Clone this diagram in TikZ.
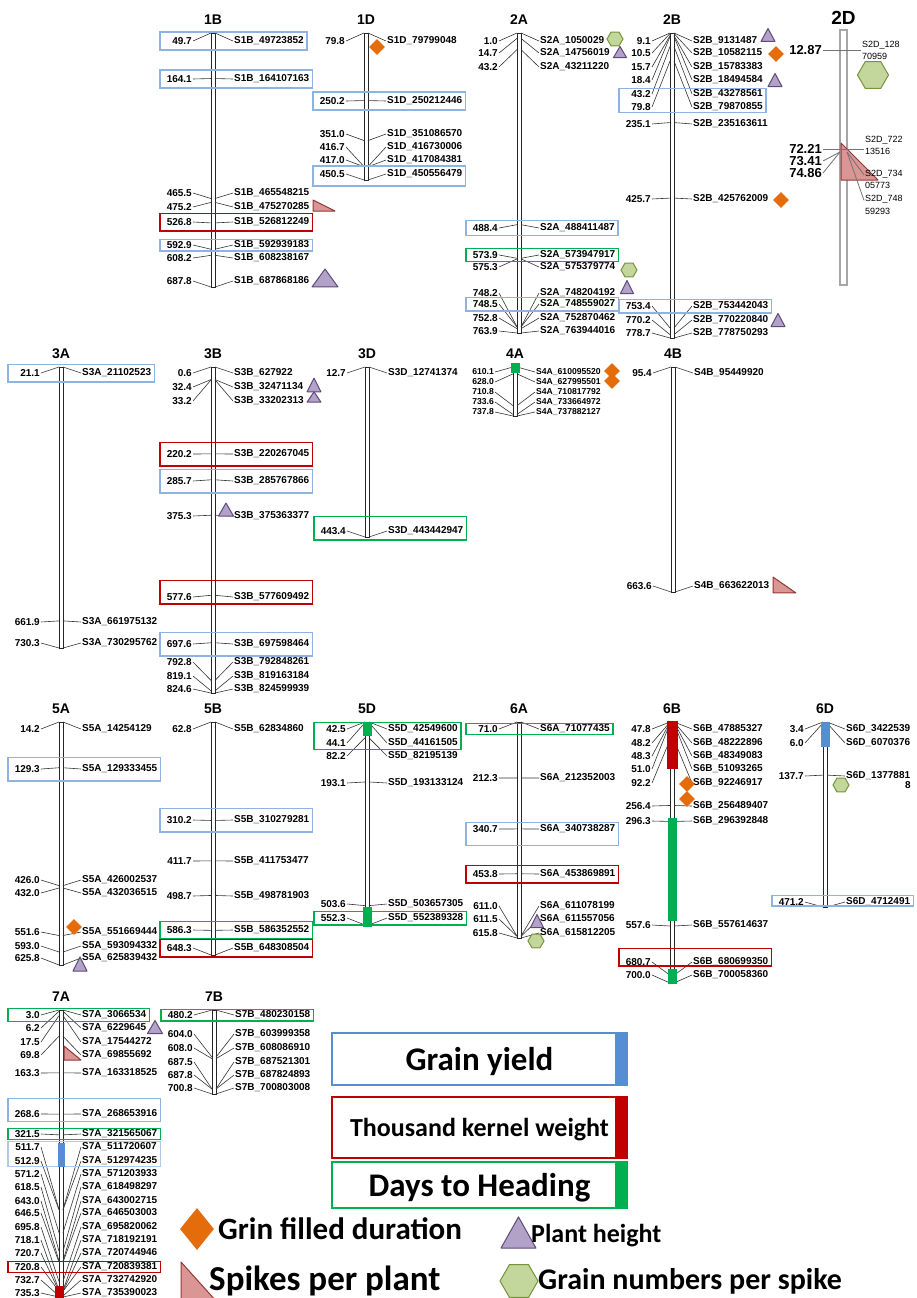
\documentclass[tikz,border=0pt]{standalone}
\usepackage{fontspec}
\setmainfont{Liberation Sans}
\newfontfamily\legfont{Carlito}
\usepackage{tikz}
\usetikzlibrary{positioning,shapes.geometric,fit,calc}
\definecolor{gyblue}{HTML}{8DB3E2}
\definecolor{gybarblue}{HTML}{558ED5}
\definecolor{tkwred}{HTML}{C00000}
\definecolor{dthgreen}{HTML}{00B050}
\definecolor{gfdorange}{HTML}{E46C0A}
\definecolor{phfill}{HTML}{B3A2C7}
\definecolor{phdraw}{HTML}{604A7B}
\definecolor{gnsfill}{HTML}{C3D69B}
\definecolor{gnsdraw}{HTML}{77933C}
\definecolor{sppfill}{HTML}{D99694}
\definecolor{sppdraw}{HTML}{953735}

% chromosome: name, x, top y, bottom y, top position, bottom position
\newcommand{\chromo}[6]{%
  \def\chx{#2}\def\chyt{#3}\def\chyb{#4}\def\chvt{#5}\def\chvb{#6}%
  \node[chrtitle] (t#1) at (#2,#3-13) {#1};
  \draw[chrbody] (#2-2,#3) rectangle (#2+2,#4);
}
% marker: id, label y, position, marker name
\newcommand{\mk}[4]{%
  \pgfmathsetmacro{\aty}{\chyt+(#3-\chvt)/(\chvb-\chvt)*(\chyb-\chyt)}%
  \coordinate (l#1) at (\chx-51,#2);
  \node[vlab] (v#1) at (\chx-20,#2) {#3};
  \node[nlab] (n#1) at (\chx+20,#2) {#4};
  \draw[mkline] (v#1.east) -- (\chx-2,\aty);
  \draw[mkline] (\chx+2,\aty) -- (n#1.west);
}
% trait box: style, first marker, last marker
\newcommand{\qbox}[3]{%
  \node[#1, fit=(l#2)(v#2)(n#2)(l#3)(n#3)] (q#2) {};
}

\begin{document}
\begin{tikzpicture}[
  x=1pt, y=-1pt,
  font=\bfseries\fontsize{10}{12}\selectfont,
  chrtitle/.style={font=\bfseries\fontsize{14}{16}\selectfont, inner sep=0pt},
  chrbody/.style={draw=black!85, line width=0.7pt},
  vlab/.style={anchor=east, inner sep=1pt},
  nlab/.style={anchor=west, inner sep=1pt},
  mkline/.style={draw=black!80, line width=0.6pt},
  trait/.style={inner xsep=2pt, inner ysep=3.5pt, line width=1.4pt},
  tall/.style={inner ysep=6.5pt},
  thin/.style={inner ysep=0.5pt},
  gybox/.style={trait, draw=gyblue},
  tkwbox/.style={trait, draw=tkwred},
  dthbox/.style={trait, draw=dthgreen},
  gfd/.style={diamond, fill=gfdorange, inner sep=0pt, minimum width=16pt, minimum height=16pt},
  gns/.style={regular polygon, regular polygon sides=6, fill=gnsfill, draw=gnsdraw, line width=1pt, inner sep=0pt, minimum size=16pt},
  phmark/.style={fill=phfill, draw=phdraw, line width=1pt, line join=round},
  sppmark/.style={fill=sppfill, draw=sppdraw, line width=1pt, line join=round},
  ph/.pic={\filldraw[phmark] (-7,6.5) -- (7,6.5) -- (0,-6.5) -- cycle;},
  spp/.pic={\filldraw[sppmark] (-10,-6) -- (-10,6) -- (10,6) -- cycle;},
  dval/.style={anchor=east, inner sep=1pt, font=\bfseries\fontsize{13}{15}\selectfont},
  dname/.style={anchor=west, inner sep=1pt, align=left, font=\mdseries\fontsize{9}{12.5}\selectfont},
  dline/.style={draw=black!55, line width=0.8pt},
  legbox/.style={minimum width=295pt, line width=1.5pt, inner sep=0pt, text depth=0pt},
  legtxt/.style={anchor=base west, inner sep=0pt}
]
  \useasboundingbox (0,0) rectangle (916,1298);
  \clip (0,0) rectangle (916,1298);

  % ---------------------------------------------------------------------------
  % 1B
  % ---------------------------------------------------------------------------
  \chromo{1B}{213}{33}{287}{49.7}{687.8}
  \mk{1B1}{41}{49.7}{S1B\_49723852}
  \mk{1B2}{79}{164.1}{S1B\_164107163}
  \mk{1B3}{193}{465.5}{S1B\_465548215}
  \mk{1B4}{207}{475.2}{S1B\_475270285}
  \mk{1B5}{222}{526.8}{S1B\_526812249}
  \mk{1B6}{245}{592.9}{S1B\_592939183}
  \mk{1B7}{258}{608.2}{S1B\_608238167}
  \mk{1B8}{281}{687.8}{S1B\_687868186}
  \qbox{gybox}{1B1}{1B1}
  \qbox{gybox}{1B2}{1B2}
  \qbox{tkwbox}{1B5}{1B5}
  \qbox{gybox, thin}{1B6}{1B6}
  \pic[xscale=1.1, yscale=0.92] at (324,205.5) {spp};
  \pic[xscale=1.86, yscale=1.38] at (325,278) {ph};

  % ---------------------------------------------------------------------------
  % 1D
  % ---------------------------------------------------------------------------
  \chromo{1D}{366}{33}{180}{79.8}{450.5}
  \mk{1D1}{41}{79.8}{S1D\_79799048}
  \mk{1D2}{101}{250.2}{S1D\_250212446}
  \mk{1D3}{134}{351.0}{S1D\_351086570}
  \mk{1D4}{147}{416.7}{S1D\_416730006}
  \mk{1D5}{160}{417.0}{S1D\_417084381}
  \mk{1D6}{174}{450.5}{S1D\_450556479}
  \qbox{gybox}{1D2}{1D2}
  \qbox{gybox, inner ysep=4.5pt, yshift=-2pt}{1D6}{1D6}
  \node[gfd] (k1D1) at (377,47) {};

  % ---------------------------------------------------------------------------
  % 2A
  % ---------------------------------------------------------------------------
  \chromo{2A}{519}{33}{333}{1.0}{763.9}
  \mk{2A1}{41}{1.0}{S2A\_1050029}
  \mk{2A2}{53}{14.7}{S2A\_14756019}
  \mk{2A3}{67}{43.2}{S2A\_43211220}
  \mk{2A4}{228}{488.4}{S2A\_488411487}
  \mk{2A5}{255}{573.9}{S2A\_573947917}
  \mk{2A6}{267}{575.3}{S2A\_575379774}
  \mk{2A7}{293}{748.2}{S2A\_748204192}
  \mk{2A8}{304}{748.5}{S2A\_748559027}
  \mk{2A9}{318}{752.8}{S2A\_752870462}
  \mk{2A10}{331}{763.9}{S2A\_763944016}
  \qbox{gybox, inner ysep=2pt}{2A4}{2A4}
  \qbox{dthbox, inner ysep=1pt}{2A5}{2A5}
  \qbox{gybox, inner ysep=1.5pt}{2A8}{2A8}
  \node[gns] (k2A1) at (615,39) {};
  \pic[xscale=0.93, yscale=0.85] at (620,52) {ph};
  \node[gns] (k2A2) at (629,270) {};
  \pic[xscale=0.93] at (627,287) {ph};

  % ---------------------------------------------------------------------------
  % 2B
  % ---------------------------------------------------------------------------
  \chromo{2B}{672}{33}{338}{9.1}{778.7}
  \mk{2B1}{41}{9.1}{S2B\_9131487}
  \mk{2B2}{53}{10.5}{S2B\_10582115}
  \mk{2B3}{67}{15.7}{S2B\_15783383}
  \mk{2B4}{80}{18.4}{S2B\_18494584}
  \mk{2B5}{94}{43.2}{S2B\_43278561}
  \mk{2B6}{107}{79.8}{S2B\_79870855}
  \mk{2B7}{124}{235.1}{S2B\_235163611}
  \mk{2B8}{199}{425.7}{S2B\_425762009}
  \mk{2B9}{306}{753.4}{S2B\_753442043}
  \mk{2B10}{320}{770.2}{S2B\_770220840}
  \mk{2B11}{333}{778.7}{S2B\_778750293}
  \qbox{gybox, inner ysep=0pt}{2B5}{2B6}
  \qbox{gybox, inner ysep=1.5pt}{2B9}{2B9}
  \pic at (768,35) {ph};
  \node[gfd] (k2B1) at (776,54) {};
  \pic at (775,80) {ph};
  \node[gfd] (k2B2) at (781,200) {};
  \pic at (778,320) {ph};

  % ---------------------------------------------------------------------------
  % 2D
  % ---------------------------------------------------------------------------
  \node[chrtitle, font=\bfseries\fontsize{19}{21}\selectfont] (t2D) at (843.5,18) {2D};
  \draw[draw=black!35, line width=2pt] (840,30) rectangle (847,285);
  \filldraw[sppmark] (841,143) -- (841,180) -- (878,180) -- cycle;
  \node[gns, minimum size=31pt] (k2D1) at (873,75) {};
  \coordinate (a2D) at (840,152);
  \coordinate (b2D) at (847,152);
  \node[dval] (v2D1) at (823,50) {12.87};
  \node[dname] (n2D1) at (861,50.5) {S2D\_128\\70959};
  \node[dval] (v2D2) at (823,149) {72.21};
  \node[dname] (n2D2) at (864,145.5) {S2D\_722\\13516};
  \node[dval] (v2D3) at (823,161) {73.41};
  \node[dname] (n2D3) at (864,179.5) {S2D\_734\\05773};
  \node[dval] (v2D4) at (823,173) {74.86};
  \node[dname] (n2D4) at (864,205) {S2D\_748\\59293};
  \draw[dline] (v2D1.east) -- (v2D1.east -| n2D1.west);
  \draw[dline] (v2D2.east) -- (v2D2.east -| n2D2.west);
  \draw[dline] (v2D3.east) -- (a2D);
  \draw[dline] (v2D4.east) -- (a2D);
  \draw[dline] (b2D) -- ($(n2D3.north west)+(0,6)$);
  \draw[dline] (b2D) -- ($(n2D4.north west)+(0,6)$);

  % ---------------------------------------------------------------------------
  % 3A, 3B, 3D
  % ---------------------------------------------------------------------------
  \chromo{3A}{61}{367}{648}{21.1}{730.3}
  \mk{3A1}{373}{21.1}{S3A\_21102523}
  \mk{3A2}{622}{661.9}{S3A\_661975132}
  \mk{3A3}{643}{730.3}{S3A\_730295762}
  \qbox{gybox}{3A1}{3A1}

  \chromo{3B}{213}{367}{693}{0.6}{824.6}
  \mk{3B1}{373}{0.6}{S3B\_627922}
  \mk{3B2}{387}{32.4}{S3B\_32471134}
  \mk{3B3}{401}{33.2}{S3B\_33202313}
  \mk{3B4}{454}{220.2}{S3B\_220267045}
  \mk{3B5}{481}{285.7}{S3B\_285767866}
  \mk{3B6}{516}{375.3}{S3B\_375363377}
  \mk{3B7}{597}{577.6}{S3B\_577609492}
  \mk{3B8}{644}{697.6}{S3B\_697598464}
  \mk{3B9}{662}{792.8}{S3B\_792848261}
  \mk{3B10}{676}{819.1}{S3B\_819163184}
  \mk{3B11}{689}{824.6}{S3B\_824599939}
  \qbox{tkwbox, tall}{3B4}{3B4}
  \qbox{gybox, tall}{3B5}{3B5}
  \qbox{tkwbox, tall, yshift=5pt}{3B7}{3B7}
  \qbox{gybox, tall}{3B8}{3B8}
  \pic[yscale=1.05] at (314,385) {ph};
  \pic[yscale=0.8] at (314,397) {ph};
  \pic[xscale=1.07] at (226,509.5) {ph};

  \chromo{3D}{367}{367}{537}{12.7}{443.4}
  \mk{3D1}{373}{12.7}{S3D\_12741374}
  \mk{3D2}{531}{443.4}{S3D\_443442947}
  \qbox{dthbox, tall, yshift=3pt}{3D2}{3D2}

  % ---------------------------------------------------------------------------
  % 4A, 4B
  % ---------------------------------------------------------------------------
  \begin{scope}[vlab/.append style={font=\bfseries\fontsize{8.6}{10}\selectfont},
                nlab/.append style={font=\bfseries\fontsize{8.6}{10}\selectfont}]
    \chromo{4A}{515}{367}{416}{610.1}{737.8}
    \mk{4A1}{372}{610.1}{S4A\_610095520}
    \mk{4A2}{382}{628.0}{S4A\_627995501}
    \mk{4A3}{392}{710.8}{S4A\_710817792}
    \mk{4A4}{402}{733.6}{S4A\_733664972}
    \mk{4A5}{412}{737.8}{S4A\_737882127}
  \end{scope}
  \fill[dthgreen] (510.5,363) rectangle (519.5,373);
  \node[gfd] (k4A1) at (612,371) {};
  \node[gfd] (k4A2) at (612,381) {};

  \chromo{4B}{673}{367}{592}{95.4}{663.6}
  \mk{4B1}{373}{95.4}{S4B\_95449920}
  \mk{4B2}{586}{663.6}{S4B\_663622013}
  \pic[xscale=1.15, yscale=1.33] at (784.5,585) {spp};

  % ---------------------------------------------------------------------------
  % 5A, 5B, 5D
  % ---------------------------------------------------------------------------
  \chromo{5A}{61}{722}{965}{14.2}{625.8}
  \mk{5A1}{729}{14.2}{S5A\_14254129}
  \mk{5A2}{769}{129.3}{S5A\_129333455}
  \mk{5A3}{880}{426.0}{S5A\_426002537}
  \mk{5A4}{893}{432.0}{S5A\_432036515}
  \mk{5A5}{932}{551.6}{S5A\_551669444}
  \mk{5A6}{946}{593.0}{S5A\_593094332}
  \mk{5A7}{958}{625.8}{S5A\_625839432}
  \qbox{gybox, tall}{5A2}{5A2}
  \node[gfd] (k5A1) at (74,927) {};
  \pic[yscale=1.08] at (80,964) {ph};

  \chromo{5B}{213}{722}{955}{62.8}{648.3}
  \mk{5B1}{729}{62.8}{S5B\_62834860}
  \mk{5B2}{820}{310.2}{S5B\_310279281}
  \mk{5B3}{861}{411.7}{S5B\_411753477}
  \mk{5B4}{896}{498.7}{S5B\_498781903}
  \mk{5B5}{930}{586.3}{S5B\_586352552}
  \mk{5B6}{948}{648.3}{S5B\_648308504}
  \qbox{gybox, tall}{5B2}{5B2}
  \qbox{dthbox}{5B5}{5B5}
  \qbox{tkwbox}{5B6}{5B6}

  \chromo{5D}{367}{722}{925}{42.5}{552.3}
  \mk{5D1}{729}{42.5}{S5D\_42549600}
  \mk{5D2}{743}{44.1}{S5D\_44161505}
  \mk{5D3}{756}{82.2}{S5D\_82195139}
  \mk{5D4}{783}{193.1}{S5D\_193133124}
  \mk{5D5}{904}{503.6}{S5D\_503657305}
  \mk{5D6}{918}{552.3}{S5D\_552389328}
  \qbox{dthbox, inner ysep=1pt}{5D1}{5D2}
  \qbox{dthbox, inner ysep=1.5pt}{5D6}{5D6}
  \fill[dthgreen] (362.5,722) rectangle (371.5,736);
  \fill[dthgreen] (362.5,907) rectangle (371.5,927);

  % ---------------------------------------------------------------------------
  % 6A, 6B, 6D
  % ---------------------------------------------------------------------------
  \chromo{6A}{519}{722}{938}{71.0}{615.8}
  \mk{6A1}{729}{71.0}{S6A\_71077435}
  \mk{6A2}{778}{212.3}{S6A\_212352003}
  \mk{6A3}{829}{340.7}{S6A\_340738287}
  \mk{6A4}{874}{453.8}{S6A\_453869891}
  \mk{6A5}{906}{611.0}{S6A\_611078199}
  \mk{6A6}{919}{611.5}{S6A\_611557056}
  \mk{6A7}{933}{615.8}{S6A\_615812205}
  \qbox{dthbox, inner ysep=0pt}{6A1}{6A1}
  \qbox{gybox, inner ysep=6pt, yshift=-5pt}{6A3}{6A3}
  \qbox{tkwbox}{6A4}{6A4}
  \pic[xscale=0.93] at (537,921) {ph};
  \node[gns] (k6A1) at (536,941) {};

  \chromo{6B}{672}{722}{983}{47.8}{700.0}
  \mk{6B1}{729}{47.8}{S6B\_47885327}
  \mk{6B2}{743}{48.2}{S6B\_48222896}
  \mk{6B3}{756}{48.3}{S6B\_48349083}
  \mk{6B4}{769}{51.0}{S6B\_51093265}
  \mk{6B5}{783}{92.2}{S6B\_92246917}
  \mk{6B6}{806}{256.4}{S6B\_256489407}
  \mk{6B7}{821}{296.3}{S6B\_296392848}
  \mk{6B8}{925}{557.6}{S6B\_557614637}
  \mk{6B9}{962}{680.7}{S6B\_680699350}
  \mk{6B10}{975}{700.0}{S6B\_700058360}
  \qbox{tkwbox, yshift=5pt}{6B9}{6B9}
  \fill[tkwred] (666.5,721) rectangle (677.5,769);
  \fill[dthgreen] (667.5,818) rectangle (676.5,921);
  \fill[dthgreen] (667.5,969) rectangle (676.5,984);
  \node[gfd] (k6B1) at (687,784) {};
  \node[gfd] (k6B2) at (687,799) {};

  \chromo{6D}{825}{722}{907}{3.4}{471.2}
  \mk{6D1}{729}{3.4}{S6D\_3422539}
  \mk{6D2}{743}{6.0}{S6D\_6070376}
  \mk{6D3}{776}{137.7}{S6D\_1377881}
  \mk{6D4}{902}{471.2}{S6D\_4712491}
  \node[nlab, anchor=north east, inner sep=0.5pt] (n6D3b) at (n6D3.south east) {8};
  \qbox{gybox, inner ysep=0pt, yshift=1.5pt}{6D4}{6D4}
  \fill[gybarblue] (820.5,722) rectangle (829.5,747);
  \node[gns] (k6D1) at (841,785) {};

  % ---------------------------------------------------------------------------
  % 7A, 7B
  % ---------------------------------------------------------------------------
  \chromo{7A}{61}{1010}{1297}{3.0}{735.3}
  \mk{7A1}{1015}{3.0}{S7A\_3066534}
  \mk{7A2}{1028}{6.2}{S7A\_6229645}
  \mk{7A3}{1042}{17.5}{S7A\_17544272}
  \mk{7A4}{1055}{69.8}{S7A\_69855692}
  \mk{7A5}{1073}{163.3}{S7A\_163318525}
  \mk{7A6}{1114}{268.6}{S7A\_268653916}
  \mk{7A7}{1134}{321.5}{S7A\_321565067}
  \mk{7A8}{1147}{511.7}{S7A\_511720607}
  \mk{7A9}{1161}{512.9}{S7A\_512974235}
  \mk{7A10}{1174}{571.2}{S7A\_571203933}
  \mk{7A11}{1187}{618.5}{S7A\_618498297}
  \mk{7A12}{1201}{643.0}{S7A\_643002715}
  \mk{7A13}{1213}{646.5}{S7A\_646503003}
  \mk{7A14}{1227}{695.8}{S7A\_695820062}
  \mk{7A15}{1240}{718.1}{S7A\_718192191}
  \mk{7A16}{1253}{720.7}{S7A\_720744946}
  \mk{7A17}{1267}{720.8}{S7A\_720839381}
  \mk{7A18}{1280}{732.7}{S7A\_732742920}
  \mk{7A19}{1293}{735.3}{S7A\_735390023}
  \qbox{dthbox, inner ysep=1pt}{7A1}{7A1}
  \qbox{gybox, inner ysep=6pt, yshift=4pt}{7A6}{7A6}
  \qbox{dthbox, inner ysep=0pt}{7A7}{7A7}
  \qbox{gybox, inner ysep=0pt, draw=gyblue!70}{7A8}{7A9}
  \qbox{tkwbox, inner ysep=0pt}{7A17}{7A17}
  \fill[gybarblue] (57.5,1143) rectangle (64.5,1167);
  \fill[tkwred] (54.5,1286) rectangle (63.5,1300);
  \pic[xscale=1.07] at (155,1027) {ph};
  \pic[xscale=0.85, yscale=1.17] at (72.5,1053) {spp};

  \chromo{7B}{214}{1010}{1094}{480.2}{700.8}
  \mk{7B1}{1015}{480.2}{S7B\_480230158}
  \mk{7B2}{1034}{604.0}{S7B\_603999358}
  \mk{7B3}{1048}{608.0}{S7B\_608086910}
  \mk{7B4}{1062}{687.5}{S7B\_687521301}
  \mk{7B5}{1075}{687.8}{S7B\_687824893}
  \mk{7B6}{1088}{700.8}{S7B\_700803008}
  \qbox{dthbox, thin}{7B1}{7B1}

  % ---------------------------------------------------------------------------
  % LEGEND
  % ---------------------------------------------------------------------------
  \node[legbox, draw=gybarblue, minimum height=52pt,
        font=\legfont\bfseries\fontsize{33}{38}\selectfont] (lgy) at (479.5,1059) {Grain yield};
  \fill[gybarblue] ($(lgy.north east)+(-13,0)$) rectangle (lgy.south east);
  \node[legbox, draw=tkwred, minimum height=61pt,
        font=\legfont\bfseries\fontsize{26}{30}\selectfont] (ltkw) at (479.5,1127.5) {Thousand kernel weight};
  \fill[tkwred] ($(ltkw.north east)+(-13,0)$) rectangle (ltkw.south east);
  \node[legbox, draw=dthgreen, minimum height=46pt,
        font=\legfont\bfseries\fontsize{33}{38}\selectfont] (ldth) at (479.5,1185) {Days to Heading};
  \fill[dthgreen] ($(ldth.north east)+(-13,0)$) rectangle (ldth.south east);

  \node[gfd, minimum width=34pt, minimum height=42pt] (kgfd) at (197,1229) {};
  \node[legtxt, font=\legfont\bfseries\fontsize{31}{36}\selectfont] (tgfd) at (218,1239) {Grin filled duration};
  \pic[xscale=2.5, yscale=2.4] at (518.5,1232.5) {ph};
  \node[legtxt, font=\legfont\bfseries\fontsize{26}{30}\selectfont] (tph) at (531,1242) {Plant height};
  \pic[xscale=1.8, yscale=3.33] at (199,1282) {spp};
  \node[legtxt, font=\legfont\bfseries\fontsize{35}{40}\selectfont] (tspp) at (209,1290) {Spikes per plant};
  \node[gns, minimum size=38pt] (kgns) at (519,1281) {};
  \node[legtxt, font=\legfont\bfseries\fontsize{30}{34}\selectfont] (tgns) at (538,1289) {Grain numbers per spike};

\end{tikzpicture}
\end{document}
